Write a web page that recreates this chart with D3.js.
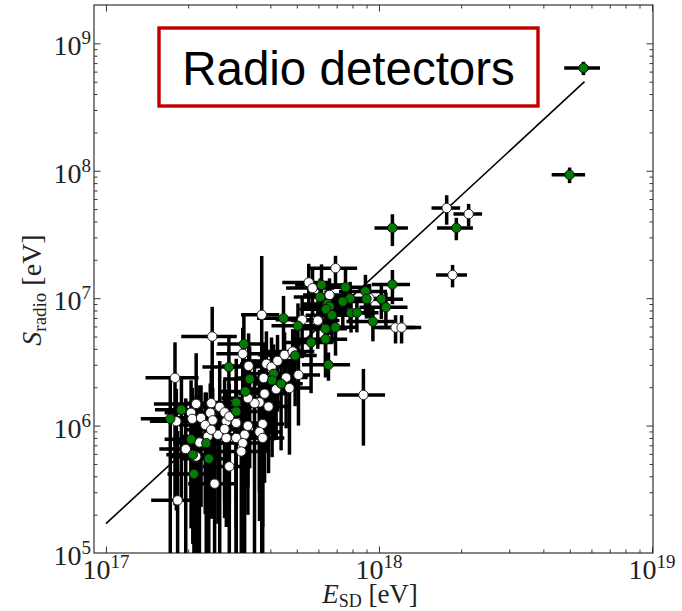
<!DOCTYPE html>
<html><head><meta charset="utf-8">
<script src="https://cdn.jsdelivr.net/npm/d3@7/dist/d3.min.js"></script>
<style>body{margin:0;background:#fff}svg{display:block}</style>
</head><body>
<svg id="chart" width="682" height="611"></svg>
<script>
// ---------------- data ----------------
const greenEnergy = [5.61e18,4.99e18,1.92e18,1.12e18,1.12e18,8.92e17,9.0e17,1.02e18,1.06e18,9.5e17,
  7.54e17,7.84e17,7.37e17,7.9e17,8.3e17,6.16e17,6.09e17,6.48e17,6.59e17,6.4e17,
  6.73e17,4.47e17,5.05e17,6.37e17,6.93e17,6.37e17,5.64e17,4.93e17,6.53e17,3.2e17,
  2.82e17,4.11e17,4.06e17,4.38e17,3.36e17,3.24e17,3.0e17,3.0e17,1.89e17,1.72e17,
  2.05e17,2.33e17,2.08e17,2.38e17,2.1e17];
const greenSignal = [6.4e8,9.3e7,3.56e7,3.56e7,1.28e7,1.13e7,9.88e6,9.82e6,8.5e6,6.55e6,
  1.22e7,9.95e6,9.4e6,7.67e6,7.7e6,1.27e7,1.02e7,9.02e6,8.6e6,8.2e6,
  7.36e6,6.95e6,6.07e6,5.75e6,5.9e6,4.77e6,4.49e6,3.55e6,3.0e6,4.36e6,
  2.88e6,2.55e6,2.26e6,2.13e6,2.32e6,1.85e6,1.52e6,1.29e6,1.33e6,1.13e6,
  7.81e5,7.29e5,5.9e5,5.5e5,4.17e5];
const greenEnergyRelErr = [0.15,0.14,0.15,0.14,0.16,0.2,0.2,0.2,0.2,0.2,
  0.2,0.2,0.2,0.2,0.2,0.2,0.2,0.2,0.2,0.2,
  0.2,0.2,0.2,0.2,0.2,0.2,0.2,0.2,0.2,0.2,
  0.2,0.2,0.2,0.2,0.2,0.2,0.2,0.2,0.2,0.22,
  0.2,0.2,0.2,0.2,0.2];
const greenSignalRelErr = [0.12,0.14,0.2,0.28,0.3,0.35,0.3,0.3,0.3,0.3,
  0.4,0.35,0.4,0.3,0.3,0.45,0.4,0.5,0.4,0.4,
  0.4,0.5,0.5,0.5,0.4,0.5,0.6,0.6,0.25,0.7,
  0.75,0.7,0.75,0.7,0.8,0.8,1.2,0.8,0.8,1.1,
  0.8,1.5,0.8,1.4,1.5];

const whiteEnergy = [1.77e18,2.13e18,1.86e18,8.77e17,1.15e18,1.21e18,6.93e17,5.53e17,5.71e17,6.59e17,
  9.23e17,5.97e17,5.23e17,3.72e17,2.45e17,3.17e17,1.79e17,4.51e17,4.83e17,5.07e17,
  4.70e17,4.2e17,3.33e17,3.87e17,4.04e17,4.25e17,3.78e17,4.57e17,3.81e17,3.65e17,
  3.5e17,3.31e17,2.14e17,2.43e17,2.61e17,2.72e17,2.05e17,2.07e17,2.23e17,2.41e17,
  2.46e17,2.31e17,2.76e17,2.83e17,3.0e17,3.31e17,3.75e17,3.94e17,3.65e17,3.75e17,
  3.22e17,3.0e17,3.17e17,3.13e17,2.83e17,2.5e17,1.83e17,1.96e17,2.14e17,2.2e17,
  2.36e17,2.57e17,2.76e17,1.81e17,2.43e17,2.72e17];
const whiteSignal = [5.1e7,4.58e7,1.52e7,1.74e6,5.88e6,5.88e6,1.72e7,1.33e7,1.2e7,1.06e7,
  9.96e6,6.67e6,6.76e6,7.4e6,5.0e6,3.66e6,2.37e6,3.59e6,3.81e6,2.5e6,
  1.97e6,1.93e6,2.94e6,3.05e6,2.89e6,3.22e6,2.36e6,2.38e6,1.78e6,1.52e6,
  1.5e6,1.64e6,1.48e6,1.5e6,1.40e6,1.27e6,1.26e6,1.13e6,1.15e6,1.26e6,
  1.1e6,1.01e6,1.08e6,1.18e6,1.05e6,9.96e5,1.03e6,1.41e6,8.9e5,8.0e5,
  8.47e5,8.0e5,7.29e5,6.26e5,4.78e5,3.5e5,2.59e5,6.54e5,5.72e5,7.37e5,
  8.21e5,8.47e5,8.0e5,1.08e6,9.27e5,9.39e5];
const whiteEnergyRelErr = [0.12,0.12,0.13,0.2,0.18,0.18,0.2,0.2,0.2,0.2,
  0.2,0.2,0.2,0.16,0.23,0.2,0.22,0.2,0.2,0.2,
  0.2,0.2,0.2,0.2,0.2,0.2,0.2,0.2,0.2,0.2,
  0.2,0.2,0.3,0.2,0.2,0.2,0.2,0.2,0.2,0.2,
  0.2,0.2,0.2,0.2,0.2,0.2,0.2,0.2,0.2,0.2,
  0.2,0.2,0.2,0.2,0.2,0.2,0.2,0.2,0.2,0.2,
  0.2,0.2,0.2,0.2,0.2,0.2];
const whiteSignalRelErr = [0.26,0.2,0.2,0.6,0.25,0.25,0.25,0.4,0.4,0.35,
  0.3,0.4,0.5,1.9,0.71,0.6,0.9,0.5,0.5,0.6,
  0.7,0.6,0.8,0.8,0.7,0.6,0.85,0.6,0.8,0.8,
  1.2,0.8,1.5,0.8,1.3,0.8,0.8,0.75,0.8,0.7,
  0.8,0.8,0.7,0.8,1.3,0.8,1.4,0.7,0.8,0.8,
  1.3,0.8,1.5,1.2,1.8,2.0,2.5,1.5,2.0,1.8,
  0.8,0.8,0.8,0.8,0.8,0.8];

const fitEnergy = [1e17, 5.66e18];
const fitSignal = [1.7e5, 5.0e8];

const xMajorTicks = [1e17, 1e18, 1e19];
const xTickExponents = ["17", "18", "19"];
const yMajorTicks = [1e5, 1e6, 1e7, 1e8, 1e9];
const yTickExponents = ["5", "6", "7", "8", "9"];
const titleText = "Radio detectors";

// ---------------- drawing ----------------
const svg = d3.select("#chart");
const serif = "'Liberation Serif','DejaVu Serif',serif";
const L = 94, R = 653, T = 5, B = 553;
const x = d3.scaleLog().domain([9.04e16, 1.0085e19]).range([L, R]);
const y = d3.scaleLog().domain([1e5, 2e9]).range([B, T]);

svg.append("defs").append("clipPath").attr("id", "clip")
  .append("rect").attr("x", L).attr("y", T).attr("width", R - L).attr("height", B - T);

const minorX = x.ticks().filter(v => !xMajorTicks.includes(v) && v > x.domain()[0] && v < x.domain()[1]);
const minorY = y.ticks().filter(v => !yMajorTicks.includes(v) && v > y.domain()[0] && v < y.domain()[1]);

function styleAxis(g) {
  g.select(".domain").remove();
  g.selectAll(".tick line").attr("stroke", "#333").attr("stroke-width", 1);
  g.selectAll(".tick text").remove();
}
[[d3.axisBottom, B], [d3.axisTop, T]].forEach(([ax, pos]) => {
  svg.append("g").attr("transform", `translate(0,${pos})`)
    .call(ax(x).tickValues(xMajorTicks.filter(v => v < x.domain()[1])).tickSize(-6.5)).call(styleAxis);
  svg.append("g").attr("transform", `translate(0,${pos})`)
    .call(ax(x).tickValues(minorX).tickSize(-3.5)).call(styleAxis);
});
[[d3.axisLeft, L], [d3.axisRight, R]].forEach(([ax, pos]) => {
  svg.append("g").attr("transform", `translate(${pos},0)`)
    .call(ax(y).tickValues(yMajorTicks.filter(v => v > y.domain()[0])).tickSize(-6.5)).call(styleAxis);
  svg.append("g").attr("transform", `translate(${pos},0)`)
    .call(ax(y).tickValues(minorY).tickSize(-3.5)).call(styleAxis);
});

svg.append("rect").attr("x", L).attr("y", T).attr("width", R - L).attr("height", B - T)
  .attr("fill", "none").attr("stroke", "#333").attr("stroke-width", 1.2);

// tick labels
xMajorTicks.forEach((v, i) => {
  const t = svg.append("text").attr("x", x(v)).attr("y", 579)
    .attr("text-anchor", "middle").attr("font-family", serif).attr("font-size", 28).attr("fill", "#222");
  t.append("tspan").text("10");
  t.append("tspan").attr("dy", -11).attr("font-size", 19).text(xTickExponents[i]);
});
yMajorTicks.forEach((v, i) => {
  const t = svg.append("text").attr("x", 91).attr("y", y(v) + 12)
    .attr("text-anchor", "end").attr("font-family", serif).attr("font-size", 28).attr("fill", "#222");
  t.append("tspan").text("10");
  t.append("tspan").attr("dy", -11).attr("font-size", 19).text(yTickExponents[i]);
});

// axis titles
const xt = svg.append("text").attr("x", 370).attr("y", 603).attr("text-anchor", "middle")
  .attr("font-family", serif).attr("font-size", 27).attr("fill", "#222");
xt.append("tspan").attr("font-style", "italic").text("E");
xt.append("tspan").attr("dy", 4).attr("font-size", 18).text("SD");
xt.append("tspan").attr("dy", -4).text("\u00a0[eV]");

const yt = svg.append("text").attr("transform", "translate(41,290) rotate(-90)").attr("text-anchor", "middle")
  .attr("font-family", serif).attr("font-size", 28).attr("fill", "#222");
yt.append("tspan").attr("font-style", "italic").text("S");
yt.append("tspan").attr("dy", 5).attr("font-size", 19).text("radio");
yt.append("tspan").attr("dy", -5).text("\u00a0[eV]");

// plot content
const content = svg.append("g").attr("clip-path", "url(#clip)");

function makeRows(E, S, eR, sR, type) {
  return E.map((e, i) => ({ e, s: S[i], de: e * eR[i], ds: S[i] * sR[i], type }));
}
const whiteRows = makeRows(whiteEnergy, whiteSignal, whiteEnergyRelErr, whiteSignalRelErr, "white");
const greenRows = makeRows(greenEnergy, greenSignal, greenEnergyRelErr, greenSignalRelErr, "green");
const allRows = whiteRows.concat(greenRows);

const ylow = d => (d.s - d.ds > y.domain()[0] ? y(d.s - d.ds) : B + 5);
const bars = content.append("g").attr("stroke", "#000").attr("stroke-width", 3.5);
bars.selectAll("line.h").data(allRows).join("line").attr("class", "h")
  .attr("x1", d => x(d.e - d.de)).attr("x2", d => x(d.e + d.de))
  .attr("y1", d => y(d.s)).attr("y2", d => y(d.s));
bars.selectAll("line.v").data(allRows).join("line").attr("class", "v")
  .attr("x1", d => x(d.e)).attr("x2", d => x(d.e))
  .attr("y1", d => y(d.s + d.ds)).attr("y2", ylow);

content.append("path")
  .datum(fitEnergy.map((e, i) => [e, fitSignal[i]]))
  .attr("d", d3.line().x(d => x(d[0])).y(d => y(d[1])))
  .attr("fill", "none").attr("stroke", "#000").attr("stroke-width", 1.6);

content.append("g").selectAll("circle").data(whiteRows).join("circle")
  .attr("cx", d => x(d.e)).attr("cy", d => y(d.s)).attr("r", 4.7)
  .attr("fill", "#fff").attr("stroke", "#222").attr("stroke-width", 1);
content.append("g").selectAll("circle").data(greenRows).join("circle")
  .attr("cx", d => x(d.e)).attr("cy", d => y(d.s)).attr("r", 4.7)
  .attr("fill", "#007d00").attr("stroke", "#111").attr("stroke-width", 1);

// title box
svg.append("rect").attr("x", 159).attr("y", 28).attr("width", 379).attr("height", 78)
  .attr("fill", "#fff").attr("stroke", "#c00000").attr("stroke-width", 3.4);
svg.append("text").attr("x", 348.5).attr("y", 85).attr("text-anchor", "middle")
  .attr("font-family", "'Liberation Sans',Arial,sans-serif").attr("font-size", 47.5).attr("fill", "#000")
  .text(titleText);
</script>
</body></html>
